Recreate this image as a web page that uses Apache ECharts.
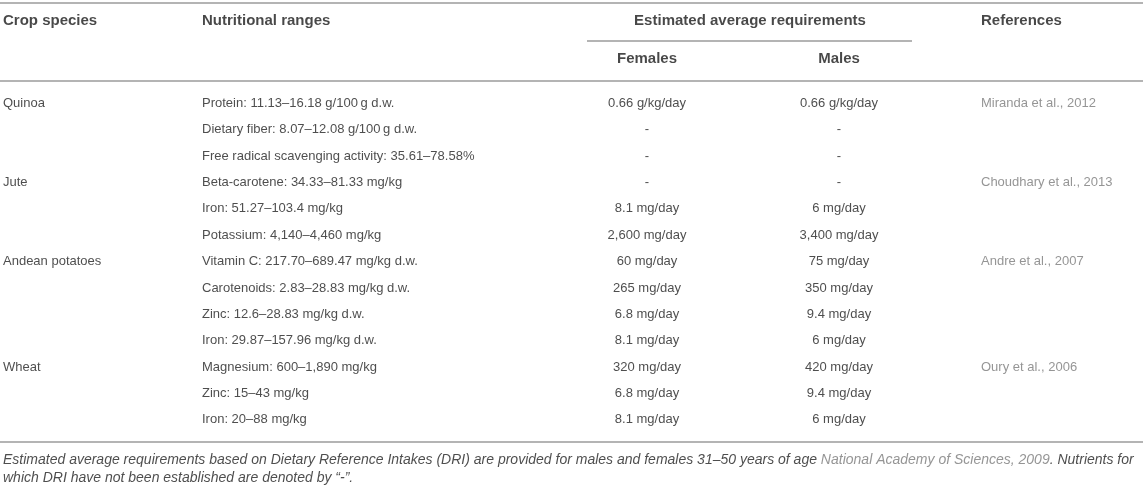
<!DOCTYPE html>
<html><head><meta charset="utf-8">
<script src="https://cdn.jsdelivr.net/npm/echarts@6/dist/echarts.min.js"></script>
<style>html,body{margin:0;padding:0;background:#fff}#c{width:1143px;height:489px}</style>
</head><body><div id="c"></div>
<script>
// ---- table content ----
var headers = ['Crop species', 'Nutritional ranges', 'Estimated average requirements', 'References'];
var subHeaders = ['Females', 'Males'];
var crops = ['Quinoa', '', '', 'Jute', '', '', 'Andean potatoes', '', '', '', 'Wheat', '', ''];
var nutrients = [
  'Protein: 11.13–16.18 g/100\u2009g d.w.',
  'Dietary fiber: 8.07–12.08 g/100\u2009g d.w.',
  'Free radical scavenging activity: 35.61–78.58%',
  'Beta-carotene: 34.33–81.33 mg/kg',
  'Iron: 51.27–103.4 mg/kg',
  'Potassium: 4,140–4,460 mg/kg',
  'Vitamin C: 217.70–689.47 mg/kg d.w.',
  'Carotenoids: 2.83–28.83 mg/kg d.w.',
  'Zinc: 12.6–28.83 mg/kg d.w.',
  'Iron: 29.87–157.96 mg/kg d.w.',
  'Magnesium: 600–1,890 mg/kg',
  'Zinc: 15–43 mg/kg',
  'Iron: 20–88 mg/kg'
];
var females = ['0.66 g/kg/day', '-', '-', '-', '8.1 mg/day', '2,600 mg/day', '60 mg/day', '265 mg/day', '6.8 mg/day', '8.1 mg/day', '320 mg/day', '6.8 mg/day', '8.1 mg/day'];
var males = ['0.66 g/kg/day', '-', '-', '-', '6 mg/day', '3,400 mg/day', '75 mg/day', '350 mg/day', '9.4 mg/day', '6 mg/day', '420 mg/day', '9.4 mg/day', '6 mg/day'];
var refs = ['Miranda et al., 2012', '', '', 'Choudhary et al., 2013', '', '', 'Andre et al., 2007', '', '', '', 'Oury et al., 2006', '', ''];
var footnote1 = ['Estimated average requirements based on Dietary Reference Intakes (DRI) are provided for males and females 31–50 years of age ', 'National Academy of Sciences, 2009', '. Nutrients for'];
var footnote2 = 'which DRI have not been established are denoted by \u201C-\u201D.';

// ---- layout ----
var W = 1143, H = 489;
var FONT = '"Liberation Sans", Arial, Helvetica, sans-serif';
var colX = { crop: 3, nutr: 202, fem: 647, male: 839, ref: 981 };
var rowTop = 103.5, rowH = 26.35;
function rowY(i) { return rowTop + i * rowH; }
var TXT = '#222', GREY = '#7a7a7a', RULE = '#b4b4b4';

function textSeries(name, items, align, color, weight, size) {
  return {
    name: name, type: 'scatter', symbolSize: 0, silent: true, animation: false,
    data: items.map(function (d) { return { value: [d[0], d[1]], label: { formatter: d[2] } }; }),
    label: {
      show: true, position: 'inside', align: align, verticalAlign: 'middle',
      color: color, fontSize: size || 13, fontFamily: FONT, fontWeight: weight || 'normal'
    }
  };
}
function col(arr, x) {
  var out = [];
  arr.forEach(function (s, i) { if (s !== '') out.push([x, rowY(i), s]); });
  return out;
}

var series = [
  textSeries('hdrL', [[colX.crop, 21, headers[0]], [colX.nutr, 21, headers[1]], [colX.ref, 21, headers[3]]], 'left', '#1a1a1a', 'bold', 15),
  textSeries('hdrC', [[750, 21, headers[2]], [colX.fem, 59, subHeaders[0]], [colX.male, 59, subHeaders[1]]], 'center', '#1a1a1a', 'bold', 15),
  textSeries('crops', col(crops, colX.crop), 'left', TXT),
  textSeries('nutr', col(nutrients, colX.nutr), 'left', TXT),
  textSeries('fem', col(females, colX.fem), 'center', TXT),
  textSeries('male', col(males, colX.male), 'center', TXT),
  textSeries('refs', col(refs, colX.ref), 'left', GREY),
  {
    name: 'foot', type: 'scatter', symbolSize: 0, silent: true, animation: false,
    data: [
      { value: [colX.crop, 460], label: { formatter: '{a|' + footnote1[0] + '}{g|' + footnote1[1] + '}{a|' + footnote1[2] + '}' } },
      { value: [colX.crop, 478], label: { formatter: '{a|' + footnote2 + '}' } }
    ],
    label: {
      show: true, position: 'inside', align: 'left', verticalAlign: 'middle',
      rich: {
        a: { fontSize: 14, fontStyle: 'italic', fontFamily: FONT, color: TXT },
        g: { fontSize: 14, fontStyle: 'italic', fontFamily: FONT, color: GREY }
      }
    }
  },
  {
    name: 'rules', type: 'lines', coordinateSystem: 'cartesian2d', silent: true, animation: false,
    lineStyle: { color: RULE, width: 2, opacity: 1 },
    data: [
      { coords: [[0, 2.5], [W, 2.5]] },
      { coords: [[587, 40.5], [912, 40.5]] },
      { coords: [[0, 81], [W, 81]] },
      { coords: [[0, 442], [W, 442]] }
    ]
  }
];

var chart = echarts.init(document.getElementById('c'), null, { renderer: 'canvas' });
chart.setOption({
  animation: false,
  grid: { left: 0, right: 0, top: 0, bottom: 0 },
  xAxis: { type: 'value', min: 0, max: W, show: false },
  yAxis: { type: 'value', min: 0, max: H, inverse: true, show: false },
  series: series
});
</script></body></html>
